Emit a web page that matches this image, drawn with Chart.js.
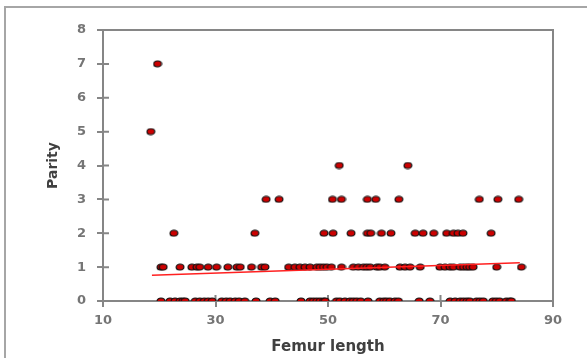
<!DOCTYPE html>
<html>
<head>
<meta charset="utf-8">
<script src="https://cdn.jsdelivr.net/npm/chart.js@4/dist/chart.umd.min.js"></script>
<style>
  html, body { margin: 0; padding: 0; background: #fff; }
  #wrap { width: 587px; height: 358px; }
</style>
</head>
<body>
<div id="wrap"><canvas id="chart" width="587" height="358"></canvas></div>
<script>
// femur length of each case, grouped by parity
var parity0 = [20.3, 21.9, 22.8, 23.7, 24.2, 24.6, 26.4, 27.2, 28.0, 28.7, 29.4, 31.1, 31.9, 32.6, 33.5, 34.2, 35.2, 37.2, 39.7, 40.6,
    45.2, 46.8, 47.4, 48.0, 48.6, 49.2, 49.5, 51.5, 52.1, 53.0, 53.9, 54.5, 55.1, 55.8, 57.1, 59.2, 59.9, 60.4, 61.0, 61.9, 62.5,
    66.2, 68.1, 71.7, 72.6, 73.5, 74.1, 74.7, 75.2, 76.4, 77.0, 77.6, 79.3, 79.9, 80.5, 81.7, 82.3, 82.6];
var parity1 = [20.3, 20.7, 23.7, 25.8, 26.7, 27.2, 28.7, 30.2, 32.2, 33.8, 34.4, 36.4, 38.2, 38.8, 43.0, 44.1, 45.0, 45.9, 46.8,
    48.0, 48.6, 49.2, 49.8, 50.6, 52.4, 54.5, 55.4, 56.3, 56.9, 57.5, 58.7, 59.2, 60.1, 62.8, 63.7, 64.6, 66.4, 69.9, 70.8,
    71.7, 72.3, 73.5, 74.1, 74.7, 75.2, 75.8, 80.0, 84.4];
var parity2 = [22.6, 37.0, 49.3, 50.9, 54.1, 57.0, 57.6, 59.5, 61.2, 65.5, 66.9, 68.8, 71.1, 72.3, 73.1, 74.0, 79.0];
var parity3 = [39.0, 41.3, 50.8, 52.4, 57.0, 58.5, 62.6, 76.9, 80.2, 83.9];
var parity4 = [52.0, 64.2];
var parity5 = [18.5];
var parity7 = [19.7];

// linear trendline end points
var trendX = [18.7, 84.1];
var trendY = [0.76, 1.13];

var xTicks = [10, 30, 50, 70, 90];
var yTicks = [0, 1, 2, 3, 4, 5, 6, 7, 8];

var axisGray = '#868686';

var groups = [[0, parity0], [1, parity1], [2, parity2], [3, parity3], [4, parity4], [5, parity5], [7, parity7]];
var points = [];
for (var g = 0; g < groups.length; g++) {
    for (var i = 0; i < groups[g][1].length; i++) {
        points.push({x: groups[g][1][i], y: groups[g][0]});
    }
}
var trend = [];
for (var k = 0; k < trendX.length; k++) {
    trend.push({x: trendX[k], y: trendY[k]});
}

// slightly wide marker, like the stretched original
var dot = document.createElement('canvas');
dot.width = 10; dot.height = 8;
var dc = dot.getContext('2d');
dc.beginPath();
dc.ellipse(5, 4, 3.9, 3.0, 0, 0, Math.PI * 2);
dc.fillStyle = '#cc0000';
dc.fill();
dc.lineWidth = 1.2;
dc.strokeStyle = '#111';
dc.stroke();

var frame = {
    id: 'frame',
    beforeDraw: function(chart) {
        var ctx = chart.ctx;
        ctx.save();
        ctx.fillStyle = '#fff';
        ctx.fillRect(0, 0, chart.width, chart.height);
        ctx.strokeStyle = '#a6a6a6';
        ctx.lineWidth = 2;
        ctx.beginPath();
        ctx.moveTo(5, chart.height);
        ctx.lineTo(5, 7);
        ctx.lineTo(chart.width, 7);
        ctx.stroke();
        ctx.restore();
    },
    beforeDatasetsDraw: function(chart) {
        var ctx = chart.ctx;
        var a = chart.chartArea;
        var xs = chart.scales.x, ys = chart.scales.y;
        ctx.save();
        ctx.strokeStyle = axisGray;
        ctx.lineWidth = 2;
        ctx.strokeRect(a.left, a.top, a.right - a.left, a.bottom - a.top);
        ctx.beginPath();
        ys.ticks.forEach(function(t) {
            var py = ys.getPixelForValue(t.value);
            ctx.moveTo(a.left, py); ctx.lineTo(a.left + 6, py);
        });
        xs.ticks.forEach(function(t) {
            var px = xs.getPixelForValue(t.value);
            ctx.moveTo(px, a.bottom); ctx.lineTo(px, a.bottom - 6);
        });
        ctx.stroke();
        ctx.restore();
    }
};

new Chart(document.getElementById('chart').getContext('2d'), {
    type: 'scatter',
    data: {
        datasets: [
            {
                type: 'line',
                data: trend,
                borderColor: '#ff2020',
                borderWidth: 1.5,
                pointRadius: 0,
                fill: false,
                order: 0
            },
            {
                data: points,
                pointStyle: dot,
                pointRadius: 4,
                order: 1
            }
        ]
    },
    options: {
        responsive: false,
        animation: false,
        events: [],
        layout: { padding: { left: 0, top: 30, right: 34, bottom: 0 } },
        plugins: { legend: { display: false }, tooltip: { enabled: false } },
        scales: {
            x: {
                type: 'linear',
                min: 10, max: 90,
                afterBuildTicks: function(scale) { scale.ticks = xTicks.map(function(v) { return {value: v}; }); },
                afterFit: function(scale) { scale.height = 57; },
                grid: { drawOnChartArea: false, drawTicks: true, tickLength: 6, color: axisGray, lineWidth: 2 },
                border: { color: axisGray, width: 2 },
                ticks: { color: '#757575', padding: 6, font: { family: 'DejaVu Sans', size: 13, weight: 'bold' } },
                title: {
                    display: true,
                    text: 'Femur length',
                    color: '#404040',
                    padding: { top: 0, bottom: 2 },
                    font: { family: 'DejaVu Sans', size: 15, weight: 'bold' }
                }
            },
            y: {
                type: 'linear',
                min: 0, max: 8,
                afterBuildTicks: function(scale) { scale.ticks = yTicks.map(function(v) { return {value: v}; }); },
                afterFit: function(scale) { scale.width = 103; },
                grid: { drawOnChartArea: false, drawTicks: true, tickLength: 6, color: axisGray, lineWidth: 2 },
                border: { color: axisGray, width: 2 },
                ticks: { color: '#757575', padding: 11, font: { family: 'DejaVu Sans', size: 13, weight: 'bold' } },
                title: {
                    display: true,
                    text: 'Parity',
                    color: '#404040',
                    padding: { top: 45, bottom: 0 },
                    font: { family: 'DejaVu Sans', size: 14, weight: 'bold' }
                }
            }
        }
    },
    plugins: [frame]
});
</script>
</body>
</html>
